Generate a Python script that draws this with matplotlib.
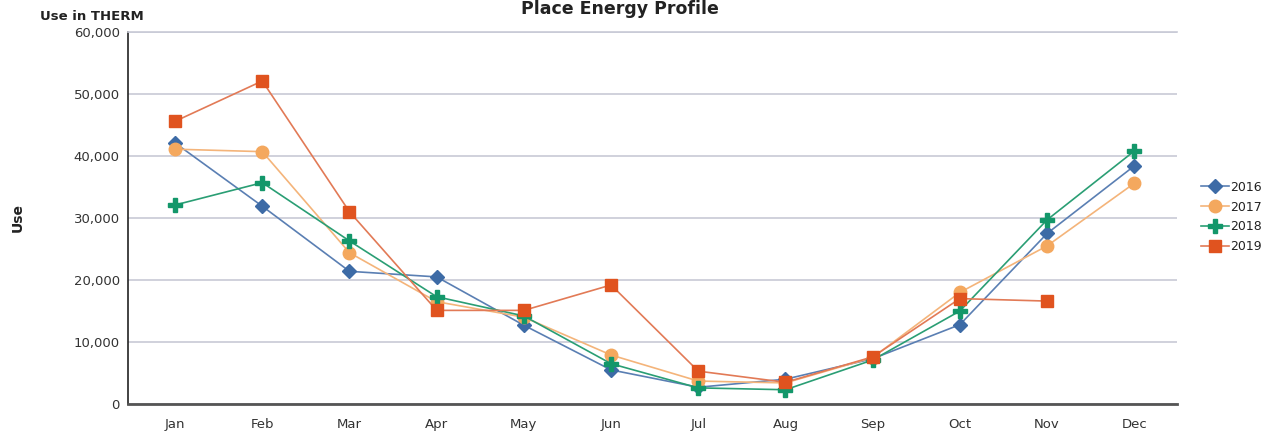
import matplotlib
matplotlib.use("Agg")
import matplotlib.pyplot as plt
import numpy as np

months = ["Jan", "Feb", "Mar", "Apr", "May", "Jun", "Jul", "Aug", "Sep", "Oct", "Nov", "Dec"]
use_2016 = [42100, 31900, 21400, 20500, 12700, 5500, 2700, 4000, 7300, 12800, 27500, 38400]
use_2017 = [41100, 40700, 24400, 16500, 14000, 7900, 3700, 3400, 7500, 18000, 25500, 35600]
use_2018 = [32100, 35700, 26300, 17300, 14200, 6500, 2600, 2300, 7100, 15000, 29700, 40800]
use_2019 = [45600, 52100, 31000, 15100, 15100, 19200, 5300, 3500, 7600, 17000, 16600, np.nan]

series = [
    ("2016", use_2016, "#3d6ba6", "#5a7fb3", "D", 7.5),
    ("2017", use_2017, "#f4a85e", "#f4b47a", "o", 9),
    ("2018", use_2018, "#13976a", "#2a9e74", "P", 10),
    ("2019", use_2019, "#e0531f", "#e27a56", "s", 8.5),
]

W, H = 1274, 437
fig = plt.figure(figsize=(W / 100, H / 100), dpi=100)
ax = fig.add_axes([128 / W, 1 - 404 / H, (1177 - 128) / W, (404 - 32) / H])

x = np.arange(len(months))
for name, vals, mc, lc, mk, ms in series:
    ax.plot(x, vals, color=lc, lw=1.2, marker=mk, markersize=ms,
            markerfacecolor=mc, markeredgecolor=mc, label=name, zorder=3)

ax.set_xlim(-0.54, 11.49)
ax.set_ylim(0, 60000)
ax.set_yticks(np.arange(0, 60001, 10000))
ax.set_yticklabels([f"{v:,}" for v in range(0, 60001, 10000)])
ax.set_xticks(x)
ax.set_xticklabels(months)
ax.tick_params(axis="both", length=0, labelsize=9.5, colors="#333333")
ax.tick_params(axis="x", pad=10)
ax.tick_params(axis="y", pad=6)
ax.grid(axis="y", color="#c8cad6", lw=1.2)
ax.set_axisbelow(True)
ax.spines["right"].set_visible(False)
ax.spines["top"].set_color("#c8cad6")
ax.spines["top"].set_linewidth(1.2)
ax.spines["left"].set_color("#222222")
ax.spines["left"].set_linewidth(1.2)
ax.spines["bottom"].set_color("#555555")
ax.spines["bottom"].set_linewidth(2)

fig.text(620 / W, 1.0, "Place Energy Profile", ha="center", va="top",
         fontsize=12.5, fontweight="bold", color="#222222")
fig.text(40 / W, 1 - 16 / H, "Use in THERM", ha="left", va="center",
         fontsize=9.5, fontweight="bold", color="#222222")
fig.text(18 / W, 1 - 218 / H, "Use", ha="center", va="center", rotation=90,
         fontsize=10, fontweight="bold", color="#222222")

leg = fig.legend(loc="center left", bbox_to_anchor=(1196 / W, 1 - 217 / H),
                 frameon=False, fontsize=9, handlelength=2.2, handletextpad=0.1,
                 labelspacing=0.55, borderaxespad=0)
for t in leg.get_texts():
    t.set_color("#222222")

fig.savefig("out.png", dpi=100)
